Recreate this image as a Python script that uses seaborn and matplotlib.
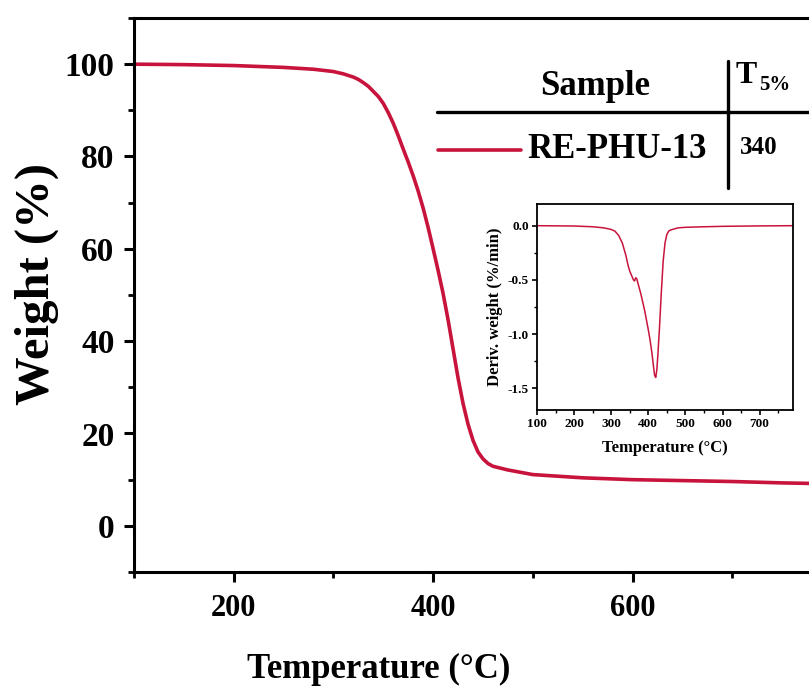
"""TGA curve of RE-PHU-13 with DTG inset and a small T5% table."""

import matplotlib
matplotlib.use("Agg")
import matplotlib.pyplot as plt
from matplotlib.lines import Line2D
from matplotlib.ticker import MultipleLocator
import seaborn as sns

# main TGA curve (temperature in C, weight in %)
tga_temp = [100, 150, 200, 250, 280, 300, 310, 320, 325, 330, 335, 340, 345,
            350, 355, 360, 365, 370, 375, 380, 385, 390, 395, 400, 405, 410,
            415, 420, 425, 430, 435, 440, 445, 450, 455, 460, 475, 500, 550,
            600, 650, 700, 750, 800]
tga_weight = [100, 99.9, 99.7, 99.3, 98.9, 98.4, 97.9, 97.2, 96.7, 96.0, 95.2,
              94.1, 93.0, 91.5, 89.5, 87.2, 84.5, 81.6, 78.8, 75.8, 72.5, 68.8,
              64.6, 60.0, 55.3, 50.3, 44.6, 38.3, 32.0, 26.5, 22.0, 18.5, 16.0,
              14.5, 13.5, 12.9, 12.1, 11.1, 10.4, 10.0, 9.8, 9.6, 9.3, 9.1]

# DTG inset (derivative weight in %/min)
dtg_temp = [100, 200, 250, 280, 300, 310, 320, 330, 340, 345, 350, 355, 360,
            363, 366, 369, 372, 380, 390, 400, 405, 410, 414, 417, 420, 423,
            426, 430, 435, 440, 445, 450, 455, 460, 470, 480, 500, 550, 600,
            700, 790]
dtg_value = [0.0, -0.003, -0.01, -0.02, -0.035, -0.05, -0.09, -0.16, -0.28,
             -0.36, -0.42, -0.46, -0.50, -0.51, -0.48, -0.49, -0.53, -0.63,
             -0.78, -0.96, -1.06, -1.18, -1.30, -1.38, -1.40, -1.33, -1.18,
             -0.95, -0.62, -0.33, -0.16, -0.08, -0.05, -0.04, -0.03, -0.02,
             -0.015, -0.01, -0.006, -0.002, 0.0]

sample_name = "RE-PHU-13"
t5_value = "340"

W, H = 809, 693
color = "#c8143c"

sns.set_style("ticks")
plt.rcParams["font.family"] = ["Liberation Serif", "DejaVu Serif"]
plt.rcParams["font.weight"] = "bold"
plt.rcParams["axes.labelweight"] = "bold"
plt.rcParams["text.color"] = "black"
plt.rcParams["axes.labelcolor"] = "black"
plt.rcParams["xtick.color"] = "black"
plt.rcParams["ytick.color"] = "black"


def fx(x):
    return x / W


def fy(y):
    return 1 - y / H


fig = plt.figure(figsize=(W / 100, H / 100), dpi=100)
ax = fig.add_axes([fx(134), fy(572), 698 / W, 554 / H])

sns.lineplot(x=tga_temp, y=tga_weight, ax=ax, color=color, linewidth=2.6)
ax.set_xlim(100, 800)
ax.set_ylim(-10, 110)
ax.set_xticks([200, 400, 600])
ax.xaxis.set_minor_locator(MultipleLocator(100))
ax.yaxis.set_major_locator(MultipleLocator(20))
ax.yaxis.set_minor_locator(MultipleLocator(10))
for s in ax.spines.values():
    s.set_linewidth(2.2)
    s.set_color("black")
ax.tick_params(which="major", direction="out", length=7, width=2.2,
               color="black", pad=7)
ax.tick_params(which="minor", direction="out", length=4, width=2.0,
               color="black")
ax.tick_params(axis="y", labelsize=24)
ax.tick_params(axis="x", labelsize=22, pad=9)
for lab in ax.get_xticklabels() + ax.get_yticklabels():
    lab.set_fontweight("bold")
ax.set_xlabel("Temperature (°C)", fontsize=25, fontweight="bold")
ax.set_ylabel("Weight (%)", fontsize=35, fontweight="bold")
ax.xaxis.set_label_coords(0.35, -0.147)
ax.yaxis.set_label_coords(-0.107, 0.52)

# small table in the upper right
lw_tab = 2.4
fig.add_artist(Line2D([fx(437), fx(809)], [fy(112), fy(112)],
                      transform=fig.transFigure, color="black", lw=lw_tab))
fig.add_artist(Line2D([fx(728), fx(728)], [fy(61), fy(188)],
                      transform=fig.transFigure, color="black", lw=lw_tab))
fig.add_artist(Line2D([fx(438), fx(521)], [fy(150), fy(150)],
                      transform=fig.transFigure, color=color, lw=2.6))
fig.text(fx(595), fy(95), "Sample", fontsize=25, fontweight="bold",
         ha="center", va="baseline")
fig.text(fx(736), fy(83), "T", fontsize=23, fontweight="bold",
         ha="left", va="baseline")
fig.text(fx(759), fy(90), "5%", fontsize=15, fontweight="bold",
         ha="left", va="baseline")
fig.text(fx(617), fy(158), sample_name, fontsize=25, fontweight="bold",
         ha="center", va="baseline")
fig.text(fx(759), fy(154), t5_value, fontsize=18, fontweight="bold",
         ha="center", va="baseline")

# DTG inset
ax_in = fig.add_axes([fx(537), fy(410), 256 / W, 206 / H])
sns.lineplot(x=dtg_temp, y=dtg_value, ax=ax_in, color=color, linewidth=1.1)
ax_in.set_xlim(100, 790)
ax_in.set_ylim(-1.7, 0.2)
ax_in.xaxis.set_major_locator(MultipleLocator(100))
ax_in.xaxis.set_minor_locator(MultipleLocator(50))
ax_in.yaxis.set_major_locator(MultipleLocator(0.5))
ax_in.yaxis.set_minor_locator(MultipleLocator(0.25))
for s in ax_in.spines.values():
    s.set_linewidth(1.3)
    s.set_color("black")
ax_in.tick_params(which="major", direction="out", length=3.5, width=1.2,
                  color="black", labelsize=9.5, pad=2.5)
ax_in.tick_params(which="minor", direction="out", length=2, width=1.0,
                  color="black")
ax_in.set_xticks([100, 200, 300, 400, 500, 600, 700])
ax_in.set_yticks([0.0, -0.5, -1.0, -1.5])
ax_in.set_yticklabels(["0.0", "-0.5", "-1.0", "-1.5"])
for lab in ax_in.get_xticklabels() + ax_in.get_yticklabels():
    lab.set_fontweight("bold")
ax_in.set_xlabel("Temperature (°C)", fontsize=12, fontweight="bold",
                 labelpad=7)
ax_in.set_ylabel("Deriv. weight (%/min)", fontsize=12, fontweight="bold",
                 labelpad=3)

fig.savefig("out.png", dpi=100)
plt.close(fig)
